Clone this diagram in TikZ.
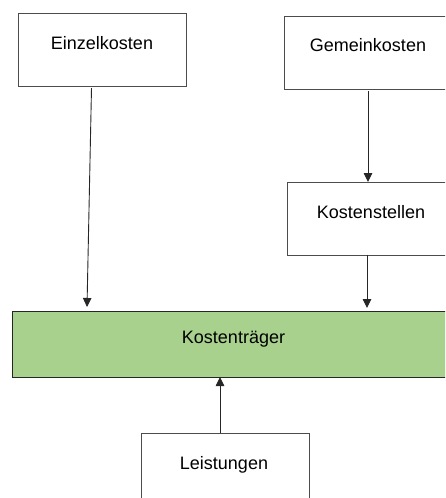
\documentclass[tikz,border=0pt]{standalone}
\usepackage{fontspec}
\setmainfont{Liberation Sans}
\usetikzlibrary{arrows.meta,calc}
\definecolor{kgreen}{HTML}{A9D18E}
\begin{document}
\begin{tikzpicture}[x=1pt,y=-1pt,
  box/.style={draw=black!70, line width=1pt, minimum width=168pt, minimum height=73pt, anchor=north west, inner sep=0pt, outer sep=0pt},
  lbl/.style={font=\fontsize{18}{21}\selectfont, anchor=base, inner sep=0pt},
  arr/.style={draw=black!85, line width=0.9pt, -{Triangle[length=9pt,width=8.5pt]}}]
\useasboundingbox (0,0) rectangle (445,498);
\clip (0,0) rectangle (445,498);
\node[box] (ek) at (18,13) {};
\node[box] (gk) at (284,16) {};
\node[box] (ks) at (287,182) {};
\node[box, fill=kgreen, draw=black!85, minimum width=443pt, minimum height=66pt] (kt) at (12,311) {};
\node[box] (ls) at (141,433) {};
\node[lbl] (ekt) at (102,49.3) {Einzelkosten};
\node[lbl] (gkt) at (368,51.7) {Gemeinkosten};
\node[lbl] (kst) at (371,218.3) {Kostenstellen};
\node[lbl] (ktt) at (233.5,343.3) {Kostenträger};
\node[lbl] (lst) at (224,469.3) {Leistungen};
\draw[arr] ($(ek.south)+(-10.5,2)$) -- ($(kt.north west)+(75,-4)$);
\draw[arr] ($(gk.south)+(0,2)$) -- (gk.south |- ks.north);
\draw[arr] ($(ks.south)+(-4,0)$) -- ($(ks.south |- kt.north)+(-4,-3)$);
\draw[arr] ($(ls.north)+(-5,0)$) -- ($(ls.north |- kt.south)+(-5,0)$);
\end{tikzpicture}
\end{document}
